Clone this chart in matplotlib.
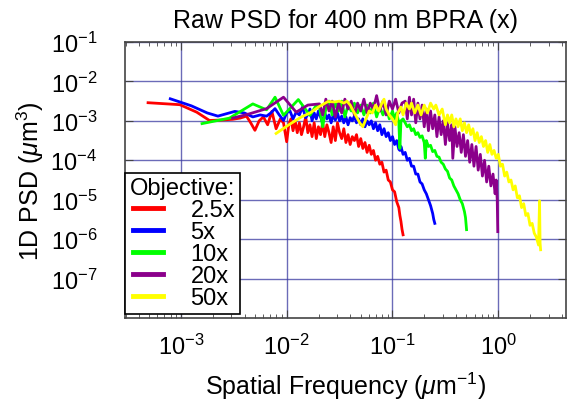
import numpy as np
import matplotlib
matplotlib.use("Agg")
import matplotlib.pyplot as plt

plt.rcParams['font.family'] = 'Liberation Sans'
plt.rcParams['mathtext.fontset'] = 'custom'
plt.rcParams['mathtext.rm'] = 'Liberation Sans'
plt.rcParams['mathtext.it'] = 'Liberation Sans:italic'
plt.rcParams['mathtext.bf'] = 'Liberation Sans:bold'

# values, as log10(frequency) and log10(PSD)
red_logf = [-3.31, -3.01, -2.85, -2.73, -2.62, -2.51, -2.44, -2.38, -2.34, -2.30,
            -2.26, -2.22, -2.18, -2.14, -2.10, -2.06, -2.03, -2.00, -1.98, -1.96,
            -1.94, -1.92, -1.90, -1.88, -1.86, -1.84, -1.82, -1.80, -1.78, -1.76,
            -1.74, -1.72, -1.70, -1.68, -1.66, -1.64, -1.62, -1.60, -1.58, -1.56,
            -1.54, -1.52, -1.50, -1.48, -1.46, -1.44, -1.42, -1.40, -1.38, -1.36,
            -1.34, -1.32, -1.30, -1.28, -1.26, -1.24, -1.22, -1.20, -1.18, -1.16,
            -1.14, -1.12, -1.10, -1.08, -1.06, -1.04, -1.02, -1.00, -0.98, -0.96,
            -0.94, -0.93, -0.92, -0.91, -0.90]
red_logpsd = [-2.54, -2.59, -2.78, -2.99, -2.98, -2.96, -2.93, -2.88, -3.05, -3.24,
              -3.00, -2.90, -3.10, -2.76, -3.20, -2.95, -3.05, -3.53, -3.10, -2.95,
              -3.25, -3.00, -3.30, -3.05, -3.35, -3.15, -2.90, -3.30, -3.10, -3.40,
              -3.05, -3.45, -3.15, -3.35, -3.05, -3.40, -3.10, -3.30, -3.55, -3.15,
              -3.50, -3.05, -3.30, -3.45, -3.20, -3.55, -3.35, -3.60, -3.40, -3.50,
              -3.35, -3.65, -3.45, -3.70, -3.55, -3.80, -3.62, -3.85, -3.75, -4.00,
              -3.90, -4.10, -4.05, -4.30, -4.25, -4.50, -4.55, -4.75, -4.80, -5.05,
              -5.20, -5.40, -5.55, -5.75, -5.89]

blue_logf = [-3.10, -2.90, -2.75, -2.65, -2.57, -2.49, -2.40, -2.32, -2.25, -2.19,
             -2.15, -2.11, -2.07, -2.03, -2.00, -1.97, -1.94, -1.91, -1.88, -1.85,
             -1.82, -1.80, -1.78, -1.76, -1.74, -1.72, -1.70, -1.68, -1.66, -1.64,
             -1.62, -1.60, -1.58, -1.56, -1.54, -1.52, -1.50, -1.48, -1.46, -1.44,
             -1.42, -1.40, -1.38, -1.36, -1.34, -1.32, -1.30, -1.28, -1.26, -1.24,
             -1.22, -1.20, -1.18, -1.16, -1.14, -1.12, -1.10, -1.08, -1.06, -1.04,
             -1.02, -1.00, -0.98, -0.96, -0.94, -0.93, -0.92, -0.90, -0.88, -0.86,
             -0.84, -0.82, -0.80, -0.78, -0.76, -0.74, -0.72, -0.70, -0.68, -0.66,
             -0.64, -0.62, -0.61, -0.60]
blue_logpsd = [-2.44, -2.62, -2.80, -2.88, -2.82, -2.76, -2.80, -2.90, -2.85, -2.88,
               -2.80, -2.69, -2.85, -2.99, -2.80, -2.74, -2.95, -2.78, -2.85, -2.65,
               -2.92, -2.84, -2.70, -3.00, -2.80, -2.95, -2.75, -2.90, -3.05, -2.80,
               -2.95, -2.85, -3.05, -2.85, -2.98, -2.80, -3.00, -2.88, -3.05, -2.90,
               -3.10, -2.92, -3.00, -2.88, -3.05, -2.95, -3.10, -2.95, -3.15, -3.00,
               -3.10, -3.00, -3.20, -3.05, -3.25, -3.10, -3.35, -3.20, -3.40, -3.30,
               -3.50, -3.40, -3.60, -3.50, -3.72, -3.75, -3.65, -3.85, -3.80, -4.00,
               -3.95, -4.15, -4.15, -4.35, -4.35, -4.55, -4.60, -4.75, -4.85, -5.00,
               -5.15, -5.35, -5.50, -5.60]

green_logf = [-2.80, -2.54, -2.32, -2.19, -2.11, -2.03, -1.89, -1.78, -1.72, -1.69,
              -1.66, -1.63, -1.60, -1.57, -1.54, -1.51, -1.48, -1.45, -1.42, -1.39,
              -1.36, -1.33, -1.30, -1.27, -1.24, -1.21, -1.18, -1.15, -1.12, -1.09,
              -1.06, -1.03, -1.00, -0.98, -0.96, -0.94, -0.93, -0.92, -0.90, -0.88,
              -0.86, -0.84, -0.82, -0.80, -0.78, -0.76, -0.74, -0.72, -0.70, -0.69,
              -0.68, -0.66, -0.64, -0.62, -0.60, -0.58, -0.56, -0.54, -0.52, -0.50,
              -0.48, -0.46, -0.44, -0.42, -0.40, -0.38, -0.36, -0.34, -0.32, -0.31,
              -0.30]
green_logpsd = [-3.07, -2.93, -2.57, -2.72, -2.40, -2.86, -2.46, -2.86, -2.60, -2.65,
                -3.15, -2.70, -2.50, -2.85, -2.55, -2.75, -2.50, -2.90, -2.60, -2.75,
                -2.55, -2.80, -2.60, -2.85, -2.60, -2.80, -2.55, -2.90, -2.65, -2.85,
                -2.65, -2.95, -2.75, -2.95, -2.80, -3.05, -3.70, -3.00, -2.95, -3.05,
                -3.15, -3.10, -3.25, -3.20, -3.35, -3.30, -3.42, -3.38, -3.55, -3.95,
                -3.50, -3.65, -3.62, -3.78, -3.75, -3.90, -3.92, -4.05, -4.10, -4.22,
                -4.28, -4.45, -4.50, -4.65, -4.75, -4.85, -5.00, -5.10, -5.30, -5.45,
                -5.76]

purple_logf = [-2.51, -2.35, -2.19, -2.03, -1.91, -1.80, -1.69, -1.66, -1.63, -1.60,
               -1.57, -1.54, -1.51, -1.48, -1.45, -1.42, -1.39, -1.36, -1.33, -1.30,
               -1.27, -1.24, -1.21, -1.18, -1.15, -1.12, -1.09, -1.06, -1.03, -1.00,
               -0.97, -0.94, -0.91, -0.88, -0.86, -0.84, -0.82, -0.80, -0.78, -0.76,
               -0.74, -0.72, -0.70, -0.68, -0.66, -0.64, -0.62, -0.60, -0.58, -0.56,
               -0.54, -0.52, -0.50, -0.48, -0.46, -0.44, -0.43, -0.41, -0.39, -0.37,
               -0.35, -0.33, -0.31, -0.29, -0.27, -0.25, -0.23, -0.21, -0.19, -0.17,
               -0.15, -0.13, -0.11, -0.09, -0.07, -0.05, -0.03, -0.02, -0.01, -0.005]
purple_logpsd = [-2.93, -2.82, -2.69, -2.40, -2.78, -2.60, -2.57, -2.85, -2.45, -2.75,
                 -2.50, -2.90, -2.55, -2.80, -2.45, -2.70, -2.50, -2.85, -2.55, -2.75,
                 -2.45, -2.80, -2.55, -2.70, -2.36, -2.75, -2.50, -2.85, -2.50, -2.70,
                 -2.45, -2.80, -2.55, -2.50, -2.95, -2.40, -2.85, -2.45, -3.05, -2.55,
                 -2.95, -2.60, -3.15, -2.70, -3.25, -2.75, -3.20, -2.85, -3.40, -2.90,
                 -3.35, -3.00, -3.60, -3.05, -3.50, -3.10, -3.95, -3.15, -3.65, -3.30,
                 -3.80, -3.35, -3.90, -3.50, -4.05, -3.60, -4.15, -3.65, -4.25, -3.85,
                 -4.40, -4.00, -4.55, -4.15, -4.65, -4.35, -4.85, -4.50, -5.00, -5.81]

yellow_logf = [-2.10, -1.98, -1.86, -1.78, -1.70, -1.61, -1.55, -1.50, -1.46, -1.43,
               -1.40, -1.37, -1.34, -1.31, -1.28, -1.25, -1.22, -1.19, -1.16, -1.13,
               -1.10, -1.08, -1.06, -1.03, -1.00, -0.97, -0.95, -0.92, -0.90, -0.87,
               -0.84, -0.82, -0.79, -0.76, -0.73, -0.70, -0.67, -0.64, -0.61, -0.59,
               -0.56, -0.53, -0.50, -0.48, -0.46, -0.44, -0.42, -0.40, -0.38, -0.36,
               -0.34, -0.32, -0.30, -0.28, -0.26, -0.24, -0.22, -0.20, -0.18, -0.16,
               -0.14, -0.12, -0.10, -0.08, -0.06, -0.04, -0.02, 0.00, 0.02, 0.04,
               0.06, 0.08, 0.10, 0.12, 0.14, 0.16, 0.18, 0.20, 0.22, 0.24,
               0.26, 0.28, 0.30, 0.32, 0.34, 0.36, 0.38, 0.39, 0.395, 0.40]
yellow_logpsd = [-3.32, -3.10, -2.90, -2.80, -2.65, -2.51, -2.52, -2.50, -2.55, -2.50,
                 -2.60, -2.75, -2.90, -3.05, -3.15, -2.95, -2.75, -2.80, -2.60, -2.75,
                 -2.55, -2.45, -2.70, -2.85, -2.95, -3.10, -2.80, -2.65, -2.85, -2.55,
                 -2.70, -2.55, -2.80, -2.60, -2.85, -2.60, -2.80, -2.55, -2.70, -2.60,
                 -2.85, -2.70, -3.10, -2.85, -3.05, -2.85, -3.15, -2.95, -3.15, -2.95,
                 -3.25, -3.05, -3.30, -3.10, -3.35, -3.20, -3.50, -3.30, -3.55, -3.40,
                 -3.65, -3.50, -3.80, -3.60, -3.85, -3.75, -3.95, -3.85, -4.15, -4.10,
                 -4.40, -4.30, -4.55, -4.50, -4.75, -4.65, -4.95, -4.90, -5.20, -5.10,
                 -5.40, -5.35, -5.65, -5.60, -5.85, -5.95, -6.15, -5.03, -6.10, -6.27]

labels = ['2.5x', '5x', '10x', '20x', '50x']
colors = ['#ff0000', '#0000ff', '#00ff00', '#8b008b', '#ffff00']
series = [(red_logf, red_logpsd), (blue_logf, blue_logpsd), (green_logf, green_logpsd),
          (purple_logf, purple_logpsd), (yellow_logf, yellow_logpsd)]

fig = plt.figure(figsize=(5.7, 4.06), dpi=100)
ax = fig.add_axes([0.2193, 0.2143, 0.7737, 0.6798])

for (lf, lp), lab, c in zip(series, labels, colors):
    ax.plot(10 ** np.array(lf), 10 ** np.array(lp), color=c, lw=2.0, label=lab)

ax.set_xscale('log')
ax.set_yscale('log')
ax.set_xlim(10 ** -3.528, 10 ** 0.64)
ax.set_ylim(1e-8, 1e-1)
ax.set_yticks([1e-7, 1e-6, 1e-5, 1e-4, 1e-3, 1e-2, 1e-1])
ax.set_xticks([1e-3, 1e-2, 1e-1, 1e0])

ax.grid(True, which='major', color='#3a3aa0', alpha=0.75, lw=1.0)
ax.tick_params(which='both', direction='in', top=True, right=True, colors='#444444',
               labelcolor='black', labelsize=17)
ax.tick_params(which='major', length=6)
ax.tick_params(which='minor', length=3)
ax.tick_params(axis='x', pad=11)
ax.tick_params(axis='y', pad=20)
for s in ax.spines.values():
    s.set_color('#444444')
    s.set_linewidth(1.2)

ax.set_title('Raw PSD for 400 nm BPRA (x)', fontsize=18, pad=11)
ax.set_xlabel(r'Spatial Frequency ($\mu$m$^{-1}$)', fontsize=18, labelpad=8)
ax.set_ylabel(r'1D PSD ($\mu$m$^3$)', fontsize=18)
ax.yaxis.set_label_coords(-0.18, 0.5)

leg = ax.legend(title='Objective:', loc='lower left', bbox_to_anchor=(0, 0.0145),
                borderaxespad=0, fontsize=17, title_fontsize=17, fancybox=False,
                framealpha=1, edgecolor='black', handlelength=1.3, handletextpad=1.15,
                labelspacing=0.0, borderpad=0.2, alignment='right')
leg.get_frame().set_linewidth(1.2)
for h in leg.get_lines():
    h.set_linewidth(3.5)

fig.savefig('out.png', dpi=100)
